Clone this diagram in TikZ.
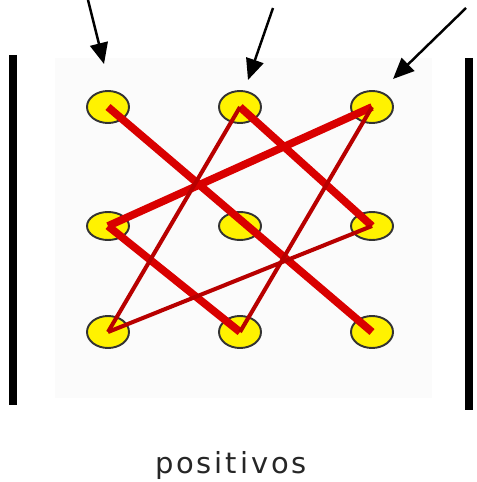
\documentclass[tikz,border=0pt]{standalone}
\usepackage{fontspec}
\newfontfamily\labelfont[LetterSpace=10]{DejaVu Sans}
\usetikzlibrary{shapes,arrows.meta,positioning}

\begin{document}
\begin{tikzpicture}[x=0.02cm, y=-0.02cm,
        dot/.style={draw=black!80, fill=yellow, ellipse, line width=1.1pt, inner sep=0pt, minimum width=0.84cm, minimum height=0.64cm},
        thickline/.style={red!85!black, line width=4.4pt},
        thinline/.style={red!72!black, line width=2.3pt},
        pointer/.style={-{Triangle[length=0.42cm, width=0.36cm]}, line width=1.4pt},
        bar/.style={line width=4.5pt}]
        \useasboundingbox (0,0) rectangle (476,482);

        % Faint panel behind the dots and the two side bars
        \fill[black!1.5] (55,58) rectangle (432,398);
        \draw[bar] (13,55) -- (13,405);
        \draw[bar] (469,58) -- (469,410);

        % Nine dots (top, middle, bottom rows)
        \node[dot] (tl) at (108,107) {};
        \node[dot] (tm) at (240,107) {};
        \node[dot] (tr) at (372,107) {};
        \node[dot, minimum height=0.56cm] (ml) at (108,226) {};
        \node[dot, minimum height=0.56cm] (mm) at (240,226) {};
        \node[dot, minimum height=0.56cm] (mr) at (372,226) {};
        \node[dot] (bl) at (108,332) {};
        \node[dot] (bm) at (240,332) {};
        \node[dot] (br) at (372,332) {};

        % Thick strokes
        \draw[thickline] (tl.center) -- (br.center);
        \draw[thickline] (tm.center) -- (mr.center);
        \draw[thickline] (ml.center) -- (bm.center);
        \draw[thickline] (ml.center) -- (tr.center);

        % Thin strokes
        \draw[thinline] (tm.center) -- (bl.center);
        \draw[thinline] (tr.center) -- (bm.center);
        \draw[thinline] (mr.center) -- (bl.center);

        % Arrows pointing at the top row
        \coordinate (s1) at (88,0);
        \coordinate (e1) at (104,64);
        \coordinate (s2) at (273,8);
        \coordinate (e2) at (248,80);
        \coordinate (s3) at (466,8);
        \coordinate (e3) at (393,79);
        \draw[pointer] (s1) -- (e1);
        \draw[pointer] (s2) -- (e2);
        \draw[pointer] (s3) -- (e3);

        % Caption
        \node[font=\labelfont\fontsize{16.5}{19}\selectfont, text=black!85] (caption) at (231,465) {positivos};
    \end{tikzpicture}
\end{document}
